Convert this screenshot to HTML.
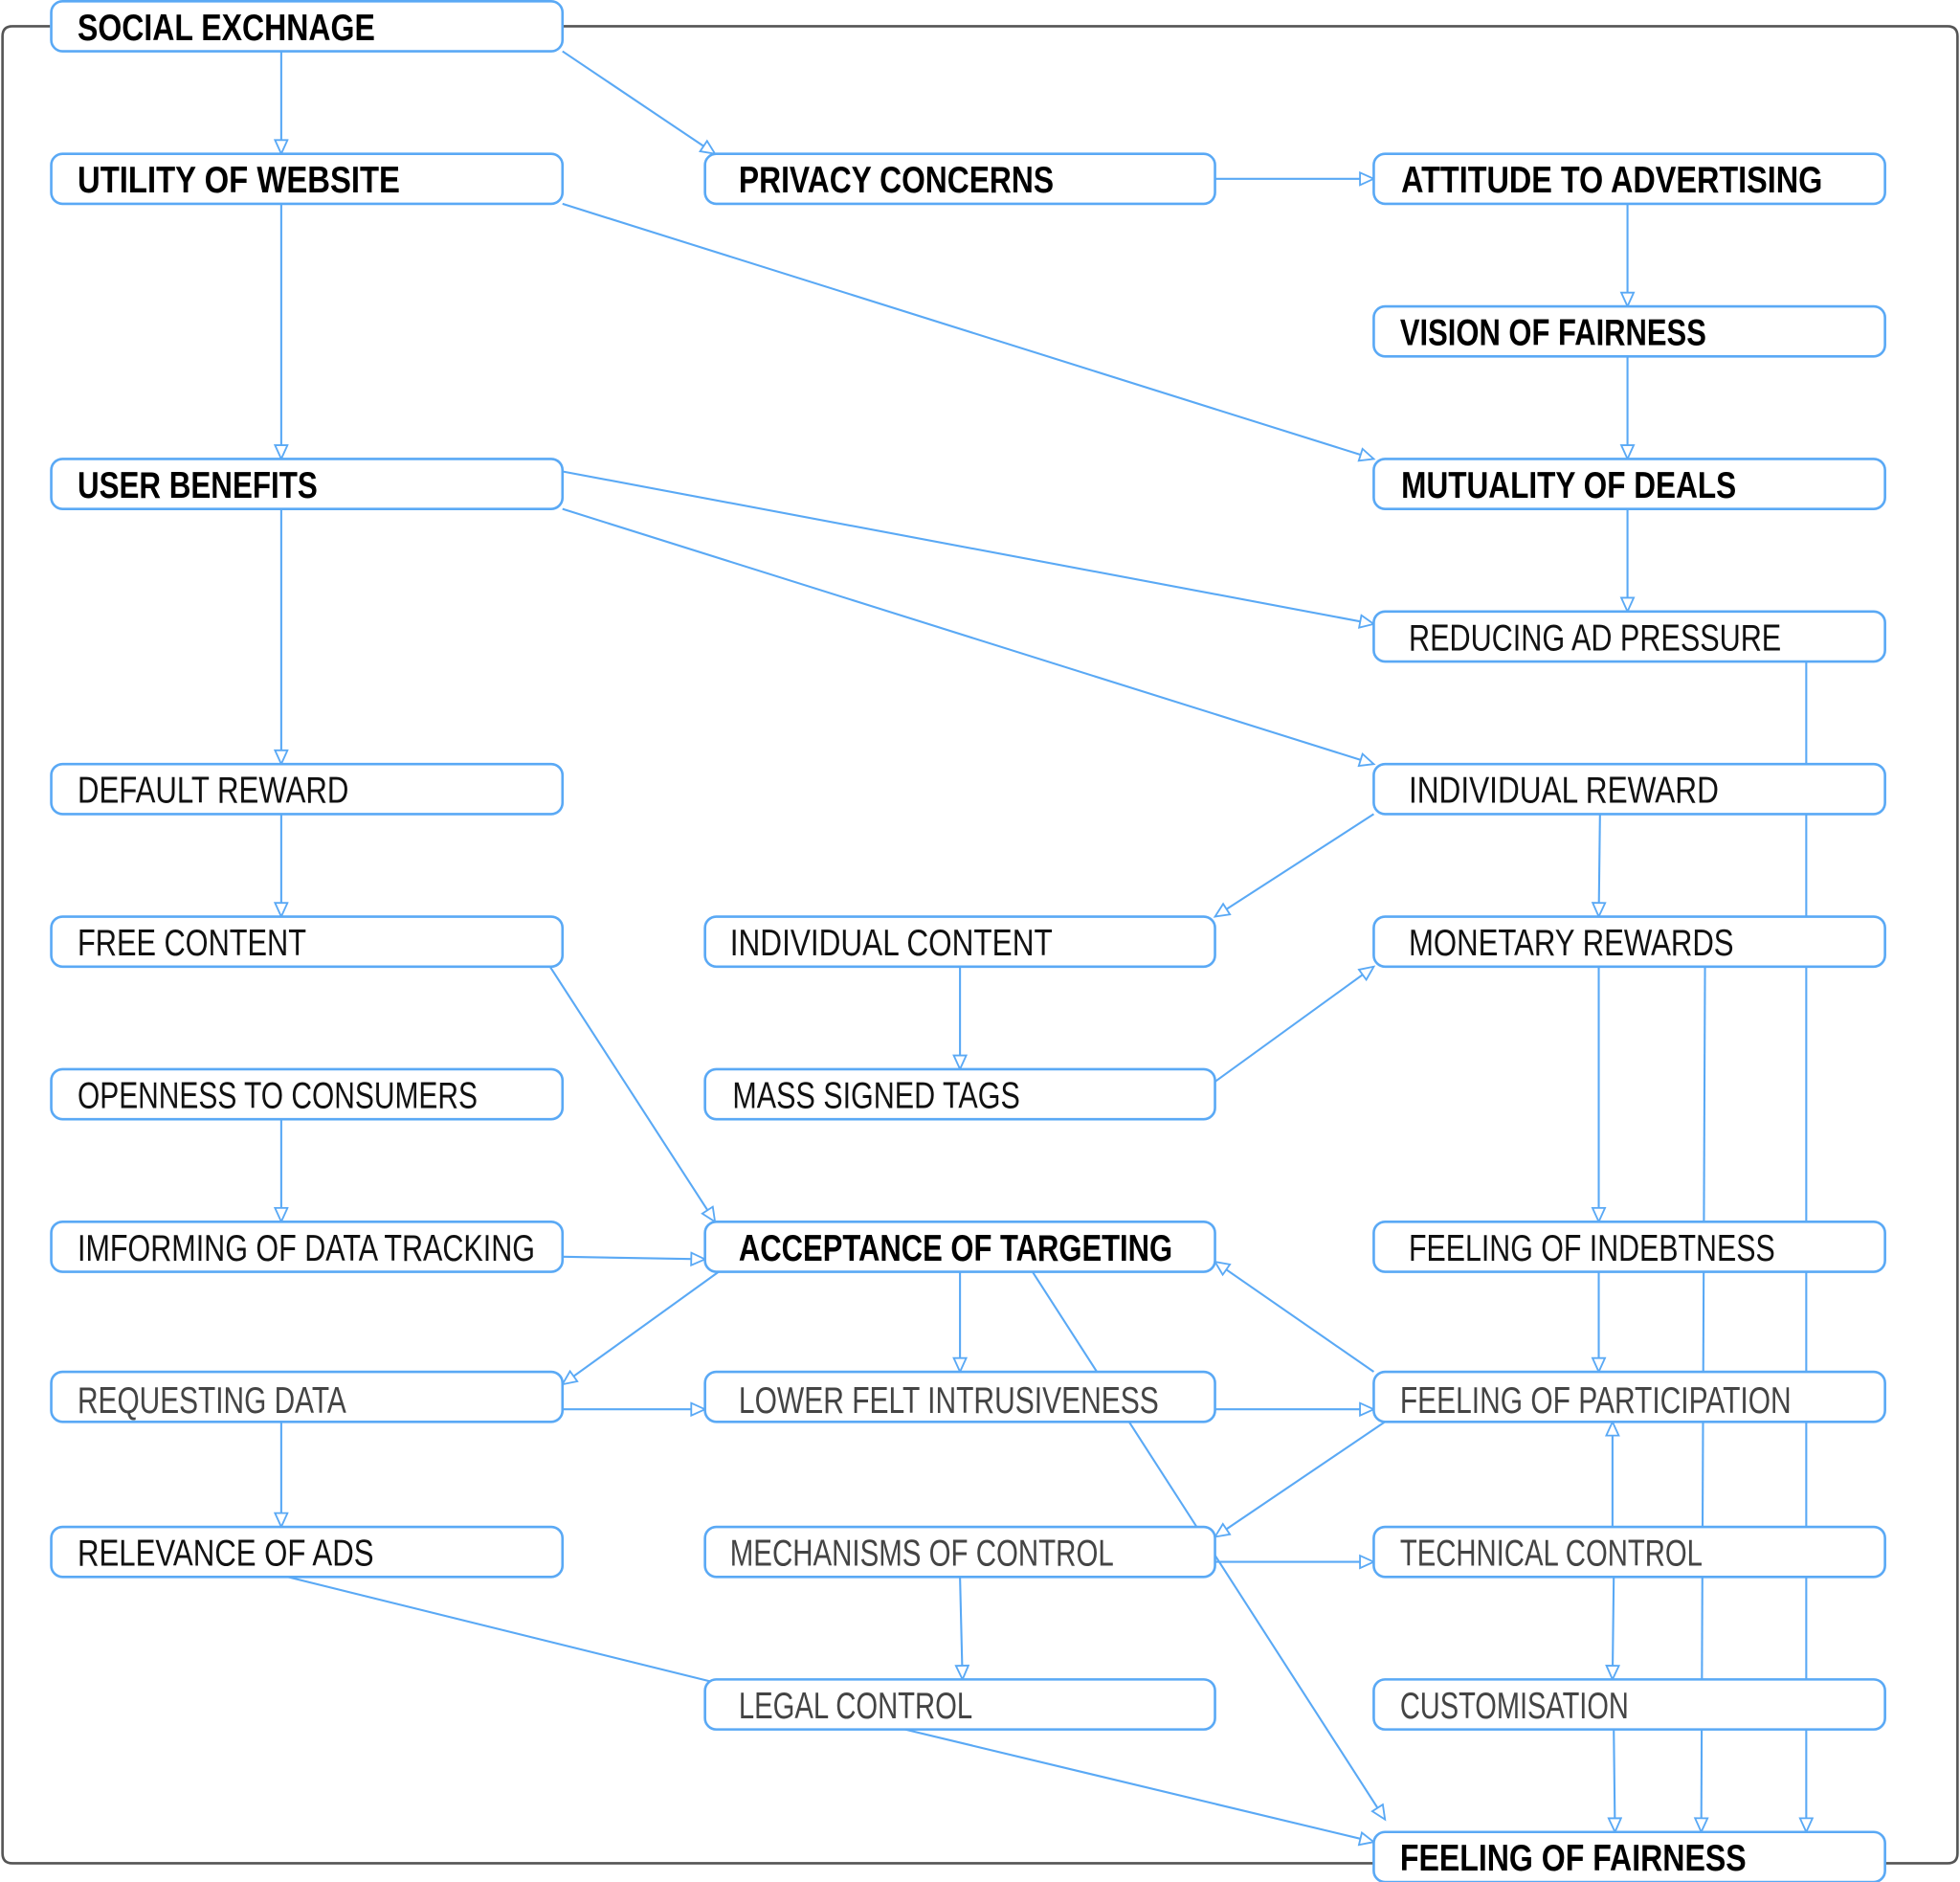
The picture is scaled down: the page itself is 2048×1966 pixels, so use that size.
<!DOCTYPE html>
<html><head><meta charset="utf-8"><style>
html,body{margin:0;padding:0;background:#fff;}
svg{display:block;}
text{font-family:"Liberation Sans",sans-serif;font-size:30px;}
.b{font-weight:bold;fill:#000;}
.n{fill:#111;}
.l{fill:#444;}
</style></head><body>
<svg width="2048" height="1966" viewBox="0 0 1568 1505" preserveAspectRatio="none" xmlns="http://www.w3.org/2000/svg">
<defs>
<marker id="a" markerUnits="userSpaceOnUse" markerWidth="14" markerHeight="14" refX="12" refY="6" orient="auto">
<path d="M1,1 L12,6 L1,11 Z" fill="#fff" stroke="#5aa9f5" stroke-width="1.4"/>
</marker>
</defs>
<path d="M40,21 L10,21 Q2,21 2,29 L2,1482 Q2,1490 10,1490 L1100,1490 M1508,1490 L1558,1490 Q1566,1490 1566,1482 L1566,29 Q1566,21 1558,21 L450,21" fill="none" stroke="#555" stroke-width="2"/>
<g stroke="#5aa9f5" stroke-width="1.6" fill="none" marker-end="url(#a)">
<line x1="225" y1="41" x2="225" y2="123"/>
<line x1="450" y1="41" x2="572" y2="123"/>
<line x1="972" y1="143" x2="1099" y2="143"/>
<line x1="1302" y1="163" x2="1302" y2="245"/>
<line x1="1302" y1="285" x2="1302" y2="367"/>
<line x1="450" y1="163" x2="1099" y2="367"/>
<line x1="225" y1="163" x2="225" y2="367"/>
<line x1="1302" y1="407" x2="1302" y2="489"/>
<line x1="450" y1="377" x2="1099" y2="499"/>
<line x1="450" y1="407" x2="1099" y2="611"/>
<line x1="225" y1="407" x2="225" y2="611"/>
<line x1="225" y1="651" x2="225" y2="733"/>
<line x1="1099" y1="651" x2="972" y2="733"/>
<line x1="1280" y1="651" x2="1279" y2="733"/>
<line x1="768" y1="773" x2="768" y2="855"/>
<line x1="972" y1="865" x2="1099" y2="773"/>
<line x1="440" y1="773" x2="572" y2="977"/>
<line x1="225" y1="895" x2="225" y2="977"/>
<line x1="450" y1="1005" x2="564" y2="1007"/>
<line x1="575" y1="1017" x2="450" y2="1107"/>
<line x1="768" y1="1017" x2="768" y2="1097"/>
<line x1="826" y1="1017" x2="1108" y2="1455"/>
<line x1="450" y1="1127" x2="564" y2="1127"/>
<line x1="225" y1="1137" x2="225" y2="1221"/>
<line x1="972" y1="1127" x2="1099" y2="1127"/>
<line x1="1099" y1="1097" x2="972" y2="1009"/>
<line x1="1279" y1="773" x2="1279" y2="977"/>
<line x1="1279" y1="1017" x2="1279" y2="1097"/>
<line x1="1108" y1="1137" x2="972" y2="1229"/>
<line x1="1290" y1="1221" x2="1290" y2="1137"/>
<line x1="972" y1="1249" x2="1099" y2="1249"/>
<line x1="768" y1="1261" x2="770" y2="1343"/>
<line x1="1291" y1="1261" x2="1290" y2="1343"/>
<line x1="1291" y1="1383" x2="1292" y2="1465"/>
<line x1="1364" y1="773" x2="1361" y2="1465"/>
<line x1="1445" y1="529" x2="1445" y2="1465"/>
<line x1="724" y1="1383" x2="1099" y2="1473" />
</g>
<line x1="230" y1="1261" x2="570" y2="1345" stroke="#5aa9f5" stroke-width="1.6"/>
<g fill="#fff" stroke="#5aa9f5" stroke-width="2">
<rect x="41" y="1" width="409" height="40" rx="9"/>
<rect x="41" y="123" width="409" height="40" rx="9"/>
<rect x="564" y="123" width="408" height="40" rx="9"/>
<rect x="1099" y="123" width="409" height="40" rx="9"/>
<rect x="1099" y="245" width="409" height="40" rx="9"/>
<rect x="41" y="367" width="409" height="40" rx="9"/>
<rect x="1099" y="367" width="409" height="40" rx="9"/>
<rect x="1099" y="489" width="409" height="40" rx="9"/>
<rect x="41" y="611" width="409" height="40" rx="9"/>
<rect x="1099" y="611" width="409" height="40" rx="9"/>
<rect x="41" y="733" width="409" height="40" rx="9"/>
<rect x="564" y="733" width="408" height="40" rx="9"/>
<rect x="1099" y="733" width="409" height="40" rx="9"/>
<rect x="41" y="855" width="409" height="40" rx="9"/>
<rect x="564" y="855" width="408" height="40" rx="9"/>
<rect x="41" y="977" width="409" height="40" rx="9"/>
<rect x="564" y="977" width="408" height="40" rx="9"/>
<rect x="1099" y="977" width="409" height="40" rx="9"/>
<rect x="41" y="1097" width="409" height="40" rx="9"/>
<rect x="564" y="1097" width="408" height="40" rx="9"/>
<rect x="1099" y="1097" width="409" height="40" rx="9"/>
<rect x="41" y="1221" width="409" height="40" rx="9"/>
<rect x="564" y="1221" width="408" height="40" rx="9"/>
<rect x="1099" y="1221" width="409" height="40" rx="9"/>
<rect x="564" y="1343" width="408" height="40" rx="9"/>
<rect x="1099" y="1343" width="409" height="40" rx="9"/>
<rect x="1099" y="1465" width="409" height="40" rx="9"/>
</g>
<g lengthAdjust="spacingAndGlyphs">
<text class="b" x="62" y="32" textLength="238" lengthAdjust="spacingAndGlyphs">SOCIAL EXCHNAGE</text>
<text class="b" x="62" y="154" textLength="258" lengthAdjust="spacingAndGlyphs">UTILITY OF WEBSITE</text>
<text class="b" x="591" y="154" textLength="252" lengthAdjust="spacingAndGlyphs">PRIVACY CONCERNS</text>
<text class="b" x="1121" y="154" textLength="337" lengthAdjust="spacingAndGlyphs">ATTITUDE TO ADVERTISING</text>
<text class="b" x="1120" y="276" textLength="245" lengthAdjust="spacingAndGlyphs" style="font-weight:600">VISION OF FAIRNESS</text>
<text class="b" x="1121" y="398" textLength="268" lengthAdjust="spacingAndGlyphs">MUTUALITY OF DEALS</text>
<text class="b" x="62" y="398" textLength="192" lengthAdjust="spacingAndGlyphs">USER BENEFITS</text>
<text class="n" x="1127" y="520" textLength="298" lengthAdjust="spacingAndGlyphs">REDUCING AD PRESSURE</text>
<text class="n" x="62" y="642" textLength="217" lengthAdjust="spacingAndGlyphs">DEFAULT REWARD</text>
<text class="n" x="1127" y="642" textLength="248" lengthAdjust="spacingAndGlyphs">INDIVIDUAL REWARD</text>
<text class="n" x="62" y="764" textLength="183" lengthAdjust="spacingAndGlyphs">FREE CONTENT</text>
<text class="n" x="584" y="764" textLength="258" lengthAdjust="spacingAndGlyphs">INDIVIDUAL CONTENT</text>
<text class="n" x="1127" y="764" textLength="260" lengthAdjust="spacingAndGlyphs">MONETARY REWARDS</text>
<text class="n" x="62" y="886" textLength="320" lengthAdjust="spacingAndGlyphs">OPENNESS TO CONSUMERS</text>
<text class="n" x="586" y="886" textLength="230" lengthAdjust="spacingAndGlyphs">MASS SIGNED TAGS</text>
<text class="n" x="62" y="1008" textLength="366" lengthAdjust="spacingAndGlyphs">IMFORMING OF DATA TRACKING</text>
<text class="b" x="591" y="1008" textLength="347" lengthAdjust="spacingAndGlyphs">ACCEPTANCE OF TARGETING</text>
<text class="n" x="1127" y="1008" textLength="293" lengthAdjust="spacingAndGlyphs">FEELING OF INDEBTNESS</text>
<text class="l" x="62" y="1130" textLength="215" lengthAdjust="spacingAndGlyphs">REQUESTING DATA</text>
<text class="l" x="591" y="1130" textLength="336" lengthAdjust="spacingAndGlyphs">LOWER FELT INTRUSIVENESS</text>
<text class="l" x="1120" y="1130" textLength="313" lengthAdjust="spacingAndGlyphs">FEELING OF PARTICIPATION</text>
<text class="n" x="62" y="1252" textLength="237" lengthAdjust="spacingAndGlyphs">RELEVANCE OF ADS</text>
<text class="l" x="584" y="1252" textLength="307" lengthAdjust="spacingAndGlyphs">MECHANISMS OF CONTROL</text>
<text class="l" x="1120" y="1252" textLength="242" lengthAdjust="spacingAndGlyphs">TECHNICAL CONTROL</text>
<text class="l" x="591" y="1374" textLength="187" lengthAdjust="spacingAndGlyphs">LEGAL CONTROL</text>
<text class="l" x="1120" y="1374" textLength="183" lengthAdjust="spacingAndGlyphs">CUSTOMISATION</text>
<text class="b" x="1120" y="1496" textLength="277" lengthAdjust="spacingAndGlyphs">FEELING OF FAIRNESS</text>
</g>
</svg>
</body></html>
